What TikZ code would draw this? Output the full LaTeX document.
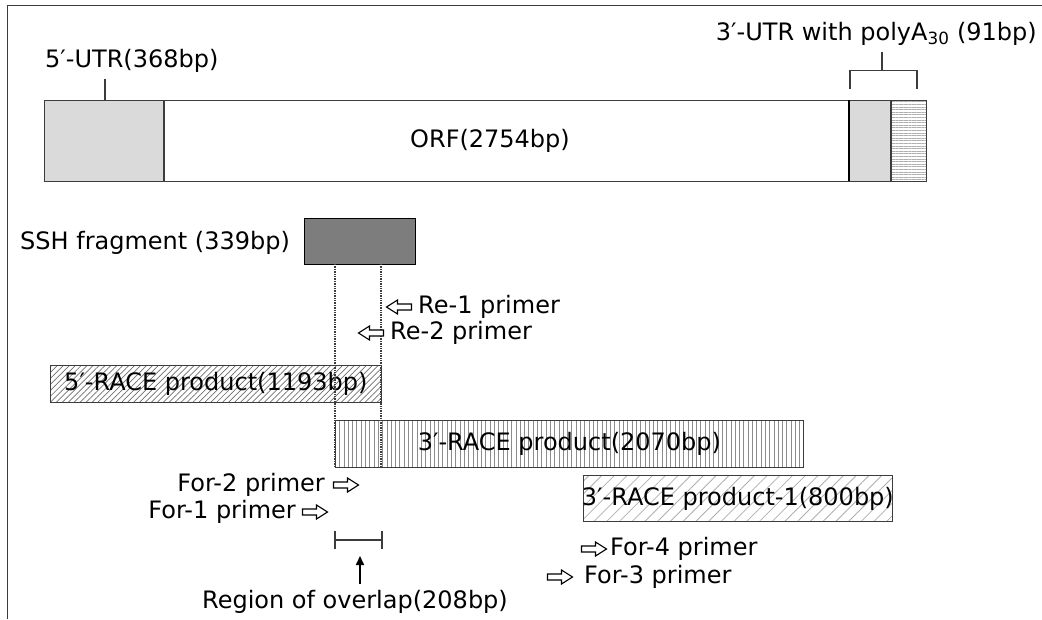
\documentclass[tikz,border=0pt]{standalone}
\usepackage{fontspec}
\setmainfont{DejaVu Sans}
\usetikzlibrary{patterns.meta,arrows.meta}
\definecolor{edge}{RGB}{60,60,60}
\definecolor{utrgray}{RGB}{218,218,218}
\definecolor{sshgray}{RGB}{125,125,125}
\definecolor{hatchdark}{RGB}{110,110,110}
\definecolor{hatchmid}{RGB}{140,140,140}
\definecolor{hatchlight}{RGB}{175,175,175}
\tikzset{
  lbl/.style={inner sep=0pt, font=\fontsize{24}{28}\selectfont, text=black},
  segbox/.style={draw=edge, line width=1.1pt},
  guide/.style={draw=edge, line width=1.3pt, dash pattern=on 1.3pt off 1.1pt},
  thinline/.style={draw=edge, line width=1.1pt},
  rprimer/.pic={\draw[draw=black, line width=1.1pt, fill=white, line join=miter]
      (-12.5,-3) -- (1.5,-3) -- (1.5,-7) -- (12.5,0) -- (1.5,7) -- (1.5,3) -- (-12.5,3) -- cycle;},
  lprimer/.pic={\draw[draw=black, line width=1.1pt, fill=white, line join=miter]
      (12.5,-3) -- (-1.5,-3) -- (-1.5,-7) -- (-12.5,0) -- (-1.5,7) -- (-1.5,3) -- (12.5,3) -- cycle;},
}
\begin{document}
\begin{tikzpicture}[x=1pt,y=-1pt]
\useasboundingbox (0,0) rectangle (1042,619);
% frame
\draw[draw=edge, line width=1.4pt] (7.5,619) -- (7.5,5.5) -- (1042,5.5);
% main transcript bar
\path[fill=utrgray] (44,100) rectangle (164,181);
\path[fill=utrgray] (849,100) rectangle (891,181);
\path[pattern={Lines[angle=0,distance=2.6pt,line width=0.5pt]}, pattern color=hatchlight] (891,100) rectangle (926,181);
\node[segbox, fill=none, minimum width=882pt, minimum height=81pt, inner sep=0pt, anchor=north west] (bar) at (44,100) {};
\draw[segbox] (164,100) -- (164,181);
\draw[draw=black, line width=2.2pt] (849,100) -- (849,181);
\draw[segbox] (891,100) -- (891,181);
\node[lbl] (orf) at (490,141) {ORF(2754bp)};
% 5' UTR label
\node[lbl, anchor=west] (utr5) at (45,61) {5′-UTR(368bp)};
\coordinate (utr5tick) at (105,79);
\draw[thinline] (utr5tick) -- (105,100);
% 3' UTR label and bracket
\node[lbl, anchor=east] (utr3) at (1037,34) {3′-UTR with polyA\textsubscript{30} (91bp)};
\coordinate (br1) at (850,89);
\coordinate (br2) at (917,89);
\draw[thinline] (br1) -- (850,70.5) -- (917,70.5) -- (br2);
\draw[thinline] (882,52) -- (882,70.5);
% SSH fragment
\node[draw=black, line width=1.1pt, fill=sshgray, minimum width=111pt, minimum height=46pt, inner sep=0pt, anchor=north west] (ssh) at (304,218) {};
\node[lbl, anchor=west] (sshlbl) at (20,243) {SSH fragment (339bp)};
% 5'-RACE product
\node[segbox, pattern={Lines[angle=45,distance=4.2pt,line width=0.7pt]}, pattern color=hatchdark,
  minimum width=331pt, minimum height=37pt, inner sep=0pt, anchor=north west] (race5) at (50,365) {};
\node[lbl] at (race5.center) {5′-RACE product(1193bp)};
% 3'-RACE product
\node[segbox, pattern={Lines[angle=90,distance=4.3pt,line width=0.9pt]}, pattern color=hatchmid,
  minimum width=468pt, minimum height=47pt, inner sep=0pt, anchor=north west] (race3) at (335,420) {};
\node[lbl] at (race3.center) {3′-RACE product(2070bp)};
% 3'-RACE product-1
\node[segbox, pattern={Lines[angle=45,distance=9pt,line width=0.8pt]}, pattern color=hatchlight,
  minimum width=309pt, minimum height=46pt, inner sep=0pt, anchor=north west] (race31) at (583,475) {};
\node[lbl] at (race31.center) {3′-RACE product-1(800bp)};
% overlap guides
\coordinate (g1top) at (335,264);
\coordinate (g2top) at (381,264);
\coordinate (g1bot) at (335,467);
\coordinate (g2bot) at (381,467);
\draw[guide] (g1top) -- (g1bot);
\draw[guide] (g2top) -- (g2bot);
% reverse primers
\pic (re1) at (399,307) {lprimer};
\node[lbl, anchor=west] (re1l) at (418,307) {Re-1 primer};
\pic (re2) at (371,333) {lprimer};
\node[lbl, anchor=west] (re2l) at (390,333) {Re-2 primer};
% forward primers
\pic (for2) at (346,485) {rprimer};
\node[lbl, anchor=east] (for2l) at (325,485) {For-2 primer};
\pic (for1) at (315,512) {rprimer};
\node[lbl, anchor=east] (for1l) at (296,512) {For-1 primer};
\pic (for4) at (594,549) {rprimer};
\node[lbl, anchor=west] (for4l) at (610,549) {For-4 primer};
\pic (for3) at (560,577) {rprimer};
\node[lbl, anchor=west] (for3l) at (584,577) {For-3 primer};
% region of overlap
\coordinate (ovl) at (335,540);
\coordinate (ovr) at (382,540);
\draw[thinline] (ovl) -- (ovr);
\draw[thinline] (335,531) -- (335,549);
\draw[thinline] (382,531) -- (382,549);
\node[lbl] (ovlbl) at (355,602) {Region of overlap(208bp)};
\coordinate (ovtip) at (360,556);
\draw[draw=black, line width=1.6pt, -{Triangle[length=9pt,width=8pt]}] (360,584) -- (ovtip);
\end{tikzpicture}
\end{document}
